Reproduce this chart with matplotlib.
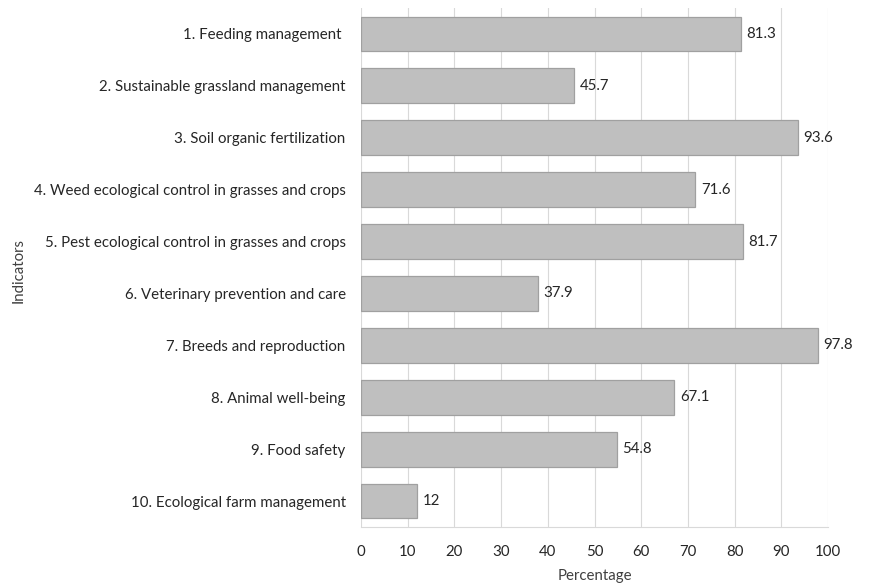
import matplotlib
matplotlib.use("Agg")
from matplotlib import pyplot as plt

indicators = [
    "1. Feeding management ",
    "2. Sustainable grassland management",
    "3. Soil organic fertilization",
    "4. Weed ecological control in grasses and crops",
    "5. Pest ecological control in grasses and crops",
    "6. Veterinary prevention and care",
    "7. Breeds and reproduction",
    "8. Animal well-being",
    "9. Food safety",
    "10. Ecological farm management",
]
percentages = [81.3, 45.7, 93.6, 71.6, 81.7, 37.9, 97.8, 67.1, 54.8, 12]
value_labels = ["81.3", "45.7", "93.6", "71.6", "81.7", "37.9", "97.8", "67.1", "54.8", "12"]

plt.rcParams["font.family"] = ["Lato", "DejaVu Sans"]
fs = 10.8

fig = plt.figure(figsize=(8.79, 5.88), dpi=100)
ax = fig.add_axes([0.4107, 0.1037, 0.5313, 0.8827])

positions = list(range(len(indicators)))
ax.barh(positions, percentages, height=0.67, color="#bfbfbf",
        edgecolor="#a0a0a0", linewidth=0.9, zorder=3)
for y, v, lab in zip(positions, percentages, value_labels):
    ax.text(v + 1.2, y, lab, va="center", ha="left", fontsize=fs, color="#262626")

ax.set_ylim(len(indicators) - 0.5, -0.5)
ax.set_xlim(0, 100)
ax.set_xticks(range(0, 101, 10))
ax.set_yticks(positions)
ax.set_yticklabels(indicators, fontsize=fs, color="#262626")
ax.tick_params(axis="x", labelsize=fs, labelcolor="#262626", length=0, pad=13)
ax.tick_params(axis="y", length=0, pad=11)
ax.grid(axis="x", color="#d9d9d9", linewidth=0.8, zorder=0)
for side in ["top", "right", "left"]:
    ax.spines[side].set_visible(False)
ax.spines["bottom"].set_color("#d9d9d9")
ax.set_xlabel("Percentage", fontsize=fs, color="#404040", labelpad=7)
fig.text(0.021, 0.54, "Indicators", rotation=90, va="center", ha="center",
         fontsize=fs, color="#404040")

fig.savefig("out.png", dpi=100)
